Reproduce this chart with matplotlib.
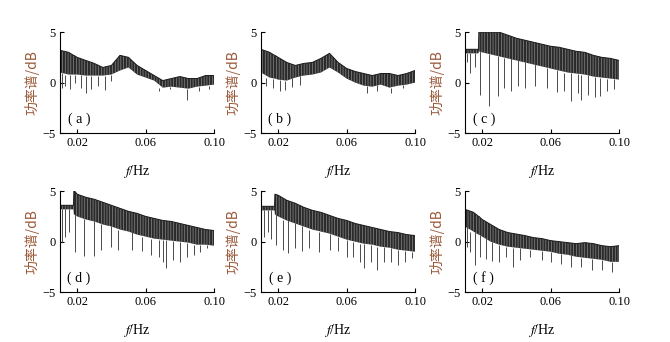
import matplotlib.pyplot as plt

plt.rcParams['mathtext.fontset'] = 'stix'
plt.rcParams['hatch.linewidth'] = 0.5

# frequency grid for the band edges (Hz)
freq = [0.010, 0.015, 0.0179, 0.0181, 0.020, 0.025, 0.030, 0.035, 0.040, 0.045, 0.050, 0.055,
        0.060, 0.065, 0.070, 0.075, 0.080, 0.085, 0.090, 0.095, 0.100]

# panel (a)
top_a = [3.2, 3.0, 2.7, 2.7, 2.5, 2.2, 1.9, 1.5, 1.7, 2.7, 2.5, 1.7, 1.2, 0.7, 0.2, 0.4, 0.6, 0.4, 0.4, 0.7, 0.7]
low_a = [1.0, 0.8, 0.8, 0.8, 0.8, 0.7, 0.7, 0.7, 0.8, 1.2, 1.5, 0.8, 0.5, 0.2, -0.5, -0.4, -0.5, -0.6, -0.4, -0.3, -0.2]
dip_f_a = [0.011, 0.013, 0.016, 0.019, 0.022, 0.025, 0.028, 0.032, 0.036, 0.040, 0.068, 0.074, 0.084, 0.091, 0.097]
dip_v_a = [-0.5, -0.3, -0.6, 0.0, -0.5, -1.0, -0.6, -0.3, -0.7, 0.2, -0.8, -0.6, -1.7, -0.8, -0.6]

# panel (b)
top_b = [3.3, 3.0, 2.7, 2.7, 2.5, 2.0, 1.7, 1.9, 2.0, 2.4, 2.9, 2.0, 1.4, 1.1, 0.9, 0.7, 0.9, 0.9, 0.7, 0.9, 1.2]
low_b = [1.0, 0.5, 0.4, 0.4, 0.3, 0.2, 0.5, 0.7, 0.8, 1.0, 1.5, 1.0, 0.4, 0.0, -0.3, -0.4, -0.2, -0.5, -0.3, -0.2, 0.0]
dip_f_b = [0.013, 0.017, 0.021, 0.024, 0.028, 0.033, 0.072, 0.078, 0.086, 0.093]
dip_v_b = [-0.3, -0.5, -0.8, -0.7, -0.4, -0.2, -1.0, -0.8, -1.0, -0.5]

# panel (c)
top_c = [3.3, 3.3, 3.3, 5.0, 5.0, 5.0, 5.0, 4.7, 4.4, 4.2, 4.0, 3.8, 3.6, 3.5, 3.3, 3.1, 3.0, 2.7, 2.5, 2.4, 2.2]
low_c = [2.9, 2.9, 2.9, 3.1, 3.0, 2.8, 2.6, 2.4, 2.2, 2.0, 1.8, 1.6, 1.4, 1.2, 1.0, 0.9, 0.8, 0.6, 0.5, 0.4, 0.3]
dip_f_c = [0.011, 0.013, 0.016, 0.019, 0.024, 0.029, 0.033, 0.037, 0.041, 0.045, 0.051, 0.058,
           0.064, 0.068, 0.072, 0.076, 0.078, 0.082, 0.086, 0.089, 0.093, 0.097]
dip_v_c = [2.0, 1.0, 1.5, -1.2, -2.3, -1.3, -0.5, -0.8, -0.3, -0.5, -0.3, -0.5,
           -0.9, -0.8, -1.8, -1.0, -1.7, -1.2, -1.4, -1.3, -0.8, -0.6]

# panel (d)
top_d = [3.6, 3.6, 3.6, 5.1, 4.7, 4.4, 4.2, 3.9, 3.6, 3.3, 3.0, 2.8, 2.5, 2.3, 2.1, 2.0, 1.8, 1.6, 1.4, 1.2, 1.1]
low_d = [3.2, 3.2, 3.2, 2.7, 2.5, 2.2, 2.0, 1.7, 1.5, 1.2, 1.0, 0.7, 0.5, 0.3, 0.2, 0.1, 0.0, -0.1, -0.3, -0.3, -0.4]
dip_f_d = [0.011, 0.013, 0.015, 0.019, 0.024, 0.030, 0.034, 0.040, 0.044, 0.052, 0.058, 0.063,
           0.068, 0.070, 0.072, 0.076, 0.080, 0.084, 0.088, 0.092, 0.096]
dip_v_d = [0.0, 0.5, 1.0, -1.0, -1.4, -1.4, -0.8, -0.5, -0.8, -0.8, -0.9, -1.3,
           -1.5, -2.0, -2.6, -1.8, -2.0, -1.5, -1.3, -1.0, -0.6]

# panel (e)
top_e = [3.5, 3.5, 3.5, 4.7, 4.6, 4.1, 3.8, 3.4, 3.1, 2.9, 2.6, 2.3, 2.1, 1.8, 1.6, 1.4, 1.2, 1.0, 0.9, 0.7, 0.6]
low_e = [3.1, 3.1, 3.1, 2.7, 2.5, 2.1, 1.8, 1.5, 1.2, 1.0, 0.8, 0.5, 0.2, 0.0, -0.2, -0.3, -0.5, -0.6, -0.8, -0.9, -1.0]
dip_f_e = [0.012, 0.014, 0.016, 0.019, 0.023, 0.026, 0.030, 0.034, 0.038, 0.044, 0.050, 0.055,
           0.060, 0.064, 0.068, 0.070, 0.074, 0.078, 0.082, 0.086, 0.090, 0.094, 0.098]
dip_v_e = [0.5, 1.0, 0.3, -0.3, -0.8, -1.1, -0.6, -0.9, -0.6, -1.0, -0.8, -0.9,
           -1.5, -1.5, -2.0, -2.6, -2.0, -2.8, -2.0, -2.0, -2.3, -2.0, -1.6]

# panel (f)
top_f = [3.2, 2.9, 2.5, 2.5, 2.2, 1.7, 1.2, 0.9, 0.75, 0.6, 0.4, 0.3, 0.1, 0.0, -0.1, -0.2, -0.1, -0.2, -0.4, -0.5, -0.4]
low_f = [1.5, 1.0, 0.7, 0.7, 0.5, 0.0, -0.3, -0.5, -0.6, -0.7, -0.8, -0.9, -1.0, -1.2, -1.3, -1.5, -1.6, -1.7, -1.8, -2.0, -2.0]
dip_f_f = [0.011, 0.013, 0.016, 0.019, 0.022, 0.026, 0.030, 0.034, 0.038, 0.042, 0.048, 0.055,
           0.060, 0.066, 0.072, 0.078, 0.084, 0.090, 0.096]
dip_v_f = [-0.5, -1.0, -2.3, -1.5, -1.7, -1.9, -2.0, -1.5, -2.5, -1.8, -1.5, -1.8,
           -2.0, -2.2, -2.5, -2.5, -2.8, -2.8, -3.0]

panels = [
    ('a', top_a, low_a, dip_f_a, dip_v_a),
    ('b', top_b, low_b, dip_f_b, dip_v_b),
    ('c', top_c, low_c, dip_f_c, dip_v_c),
    ('d', top_d, low_d, dip_f_d, dip_v_d),
    ('e', top_e, low_e, dip_f_e, dip_v_e),
    ('f', top_f, low_f, dip_f_f, dip_v_f),
]

serif = 'Liberation Serif'
label_color = '#9b5a3a'

fig = plt.figure(figsize=(6.7, 3.42), dpi=100)
lefts = [0.0896, 0.3896, 0.694]
bottoms = [0.611, 0.146]

for i, (tag, top, low, dip_f, dip_v) in enumerate(panels):
    ax = fig.add_axes([lefts[i % 3], bottoms[i // 3], 0.23, 0.295])

    # dense noisy band, vertical hatching for the spiky texture
    ax.fill_between(freq, low, top, facecolor='#2a2a2a', edgecolor='#8a8a8a',
                    hatch='||||||', linewidth=0)
    ax.plot(freq, top, color='#1a1a1a', linewidth=0.7)
    # dip spikes start from the band's lower edge at that frequency
    base = []
    for fx in dip_f:
        j = min(range(len(freq)), key=lambda k: abs(freq[k] - fx))
        base.append(low[j])
    ax.vlines(dip_f, dip_v, base, color='#4a4a4a', linewidth=0.7)

    ax.set_xlim(0.01, 0.10)
    ax.set_ylim(-5, 5)
    ax.set_xticks([0.02, 0.06, 0.10])
    ax.set_xticklabels(['0.02', '0.06', '0.10'])
    ax.set_yticks([-5, 0, 5])
    ax.set_yticklabels(['\u22125', '0', '5'])
    ax.tick_params(direction='in', length=3, width=0.8, labelsize=9, pad=3)
    for lab in ax.get_xticklabels() + ax.get_yticklabels():
        lab.set_family(serif)
    ax.spines['top'].set_visible(False)
    ax.spines['right'].set_visible(False)

    ax.text(0.021, -3.6, '( ' + tag + ' )', family=serif, fontsize=10,
            ha='center', va='center')
    ax.set_ylabel('功率谱/dB', family=['Noto Sans CJK SC', 'DejaVu Sans'],
                  fontsize=10, color=label_color, labelpad=2)
    ax.set_xlabel(r'$f$/Hz', family=serif, fontsize=10, labelpad=10)

fig.savefig('out.png', dpi=100)
